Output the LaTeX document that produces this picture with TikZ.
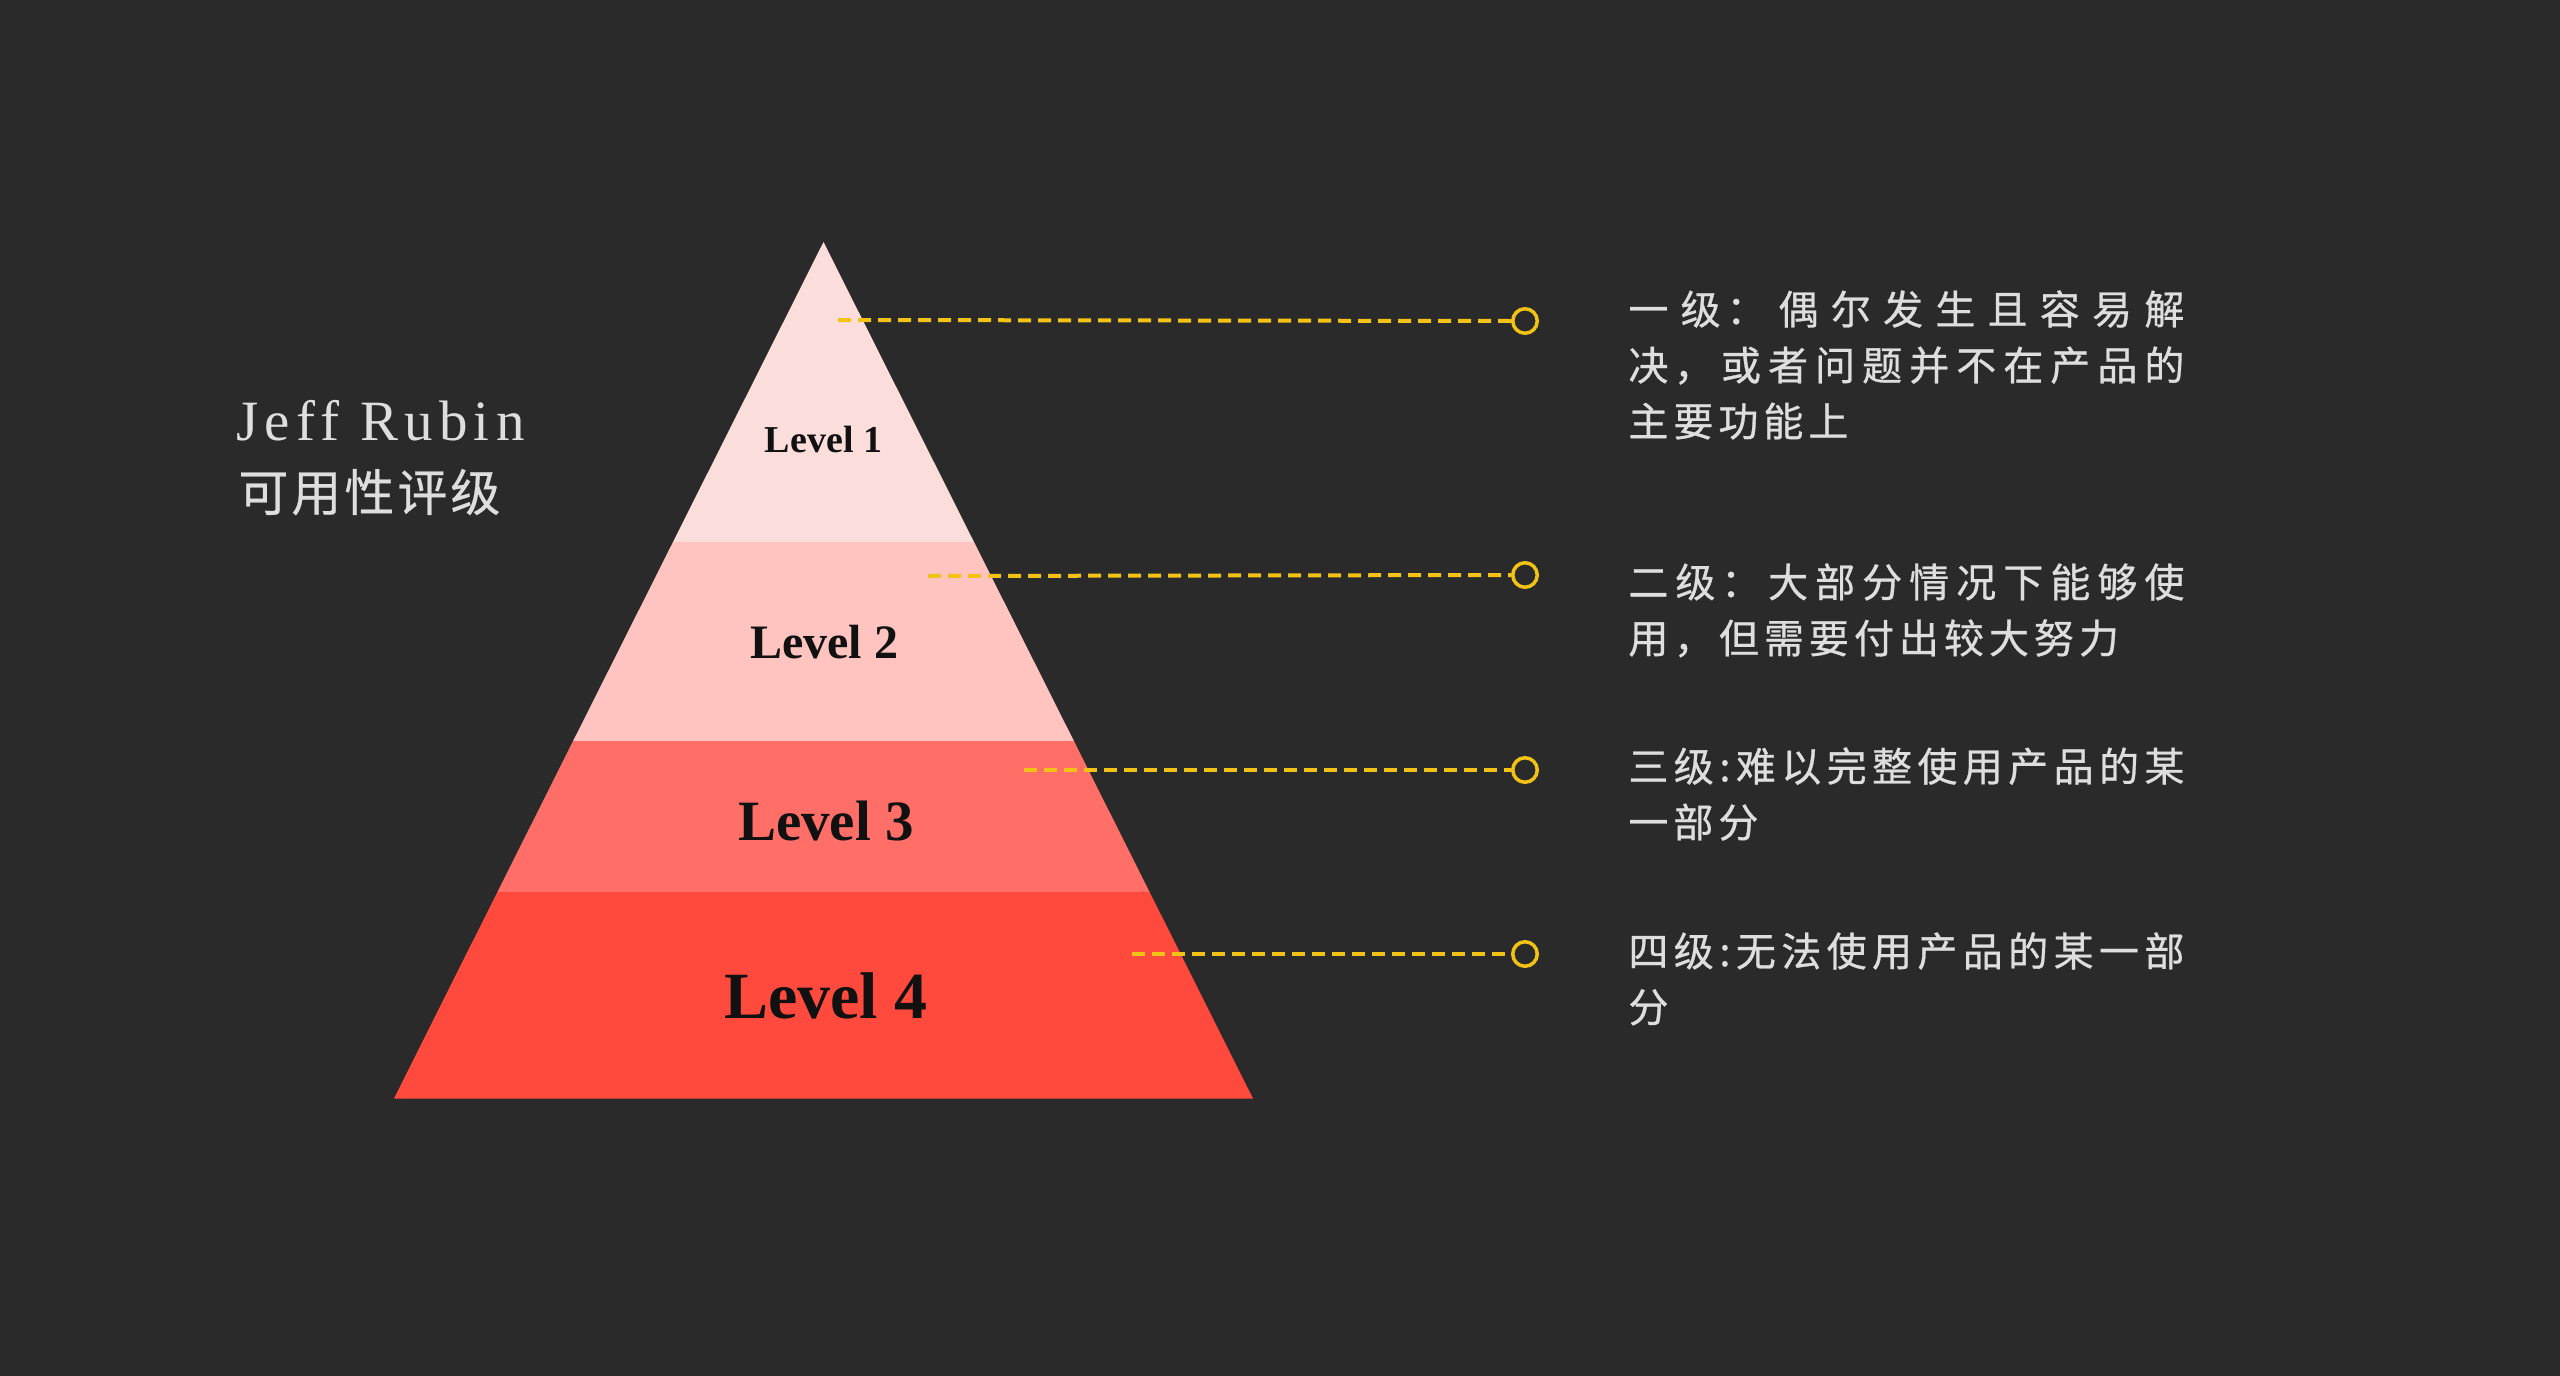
\documentclass[tikz,border=0pt]{standalone}
\usepackage{fontspec}
\setmainfont{Liberation Serif}
\newfontfamily\cjk[LetterSpace=14,FakeBold=0.7]{Noto Sans CJK SC}
\newfontfamily\cjktitle[LetterSpace=6,FakeBold=0.5]{Noto Sans CJK SC}
\newfontfamily\titlefont[LetterSpace=11]{Liberation Serif}
\definecolor{bg}{HTML}{2A2A2A}
\definecolor{bandA}{HTML}{FBDEDC}
\definecolor{bandB}{HTML}{FFC4C0}
\definecolor{bandC}{HTML}{FF6F68}
\definecolor{bandD}{HTML}{FF4A3D}
\definecolor{gold}{HTML}{F2C314}
\definecolor{txt}{HTML}{DEDEDE}
\definecolor{ink}{HTML}{111111}
\XeTeXlinebreaklocale "zh"
\tolerance=9999\relax
\newcommand\mydescfont{\cjk\fontsize{20}{28}\selectfont\XeTeXlinebreakskip=2.5pt plus 5pt\relax}
\newcommand\mysubtfont{\cjktitle\fontsize{25}{28}\selectfont}
\tikzset{
  dashline/.style={gold, line width=2pt, dash pattern=on 6.5pt off 3.5pt},
  ring/.style={circle, draw=gold, line width=1.75pt, minimum size=12.25pt, inner sep=0pt},
  desc/.style={anchor=north west, inner sep=0pt, text width=278pt, align=justify, text=txt,
    font=\mydescfont},
  subt/.style={anchor=base west, inner sep=0pt, text=txt, font=\mysubtfont},
  lvl/.style={text=ink, inner sep=0pt},
}
\begin{document}
\begin{tikzpicture}[x=0.5pt,y=-0.5pt]
\fill[bg] (0,0) rectangle (2560,1376);
\useasboundingbox (0,0) rectangle (2560,1376);
% pyramid bands
\fill[bandA] (823.5,242) -- (974,542) -- (673,542) -- cycle;
\fill[bandB] (673,542) -- (974,542) -- (1073.9,741) -- (573.1,741) -- cycle;
\fill[bandC] (573.1,741) -- (1073.9,741) -- (1149.6,892) -- (497.4,892) -- cycle;
\fill[bandD] (497.4,892) -- (1149.6,892) -- (1253,1098.5) -- (394,1098.5) -- cycle;
% level labels
\node[lvl, font=\fontsize{19}{21}\selectfont\bfseries] (l1) at (823.5,439) {Level 1};
\node[lvl, font=\fontsize{24}{26}\selectfont\bfseries] (l2) at (824,642) {Level 2};
\node[lvl, font=\fontsize{28.5}{30}\selectfont\bfseries] (l3) at (826,821) {Level 3};
\node[lvl, font=\fontsize{33}{35}\selectfont\bfseries] (l4) at (826,996) {Level 4};
% title
\node[anchor=base west, inner sep=0pt, text=txt, font=\titlefont\fontsize{28.5}{30}\selectfont] (title) at (236,440) {Jeff Rubin};
\node[subt] (subtitle) at (238,511) {可用性评级};
% start points and rings
\coordinate (s1) at (838,320);
\coordinate (s2) at (928,576);
\coordinate (s3) at (1024,770);
\coordinate (s4) at (1132,954);
\node[ring] (c1) at (1525,321) {};
\node[ring] (c2) at (1525,575) {};
\node[ring] (c3) at (1525,770) {};
\node[ring] (c4) at (1525,954) {};
\draw[dashline] (s1) -- (c1.west);
\draw[dashline] (s2) -- (c2.west);
\draw[dashline] (s3) -- (c3.west);
\draw[dashline] (s4) -- (c4.west);
% descriptions
\node[desc] (t1) at (1628,290) {一级：偶尔发生且容易解决，或者问题并不在产品的主要功能上};
\node[desc] (t2) at (1628,563) {二级：大部分情况下能够使用，但需要付出较大努力};
\node[desc] (t3) at (1628,747) {三级:难以完整使用产品的某一部分};
\node[desc] (t4) at (1628,932) {四级:无法使用产品的某一部分};
\end{tikzpicture}
\end{document}
